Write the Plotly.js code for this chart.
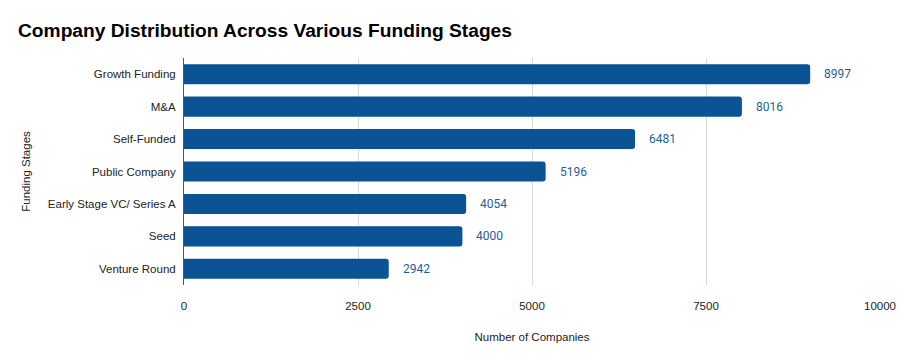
<!DOCTYPE html>
<html>
<head>
<meta charset="utf-8">
<script src="https://cdn.plot.ly/plotly-3.0.1.min.js"></script>
<style>html,body{margin:0;padding:0;background:#fff;}#chart{width:900px;height:360px;}</style>
</head>
<body>
<div id="chart"></div>
<script>
const categories = ["Growth Funding", "M&A", "Self-Funded", "Public Company", "Early Stage VC/ Series A", "Seed", "Venture Round"];
const values = [8997, 8016, 6481, 5196, 4054, 4000, 2942];
const xTicks = [0, 2500, 5000, 7500, 10000];

const trace = {
  type: 'bar',
  orientation: 'h',
  y: categories,
  x: values,
  marker: {color: '#0b5394', cornerradius: 3},
  hoverinfo: 'none'
};

const annotations = categories.map((c, i) => ({
  x: values[i], y: c, xref: 'x', yref: 'y',
  text: String(values[i]), showarrow: false,
  xanchor: 'left', yanchor: 'middle', xshift: 12,
  font: {family: 'Roboto, Arial, sans-serif', size: 12, color: '#1f5f99'}
}));

const layout = {
  width: 900, height: 360,
  margin: {l: 184, r: 20, t: 58, b: 75},
  paper_bgcolor: '#ffffff', plot_bgcolor: '#ffffff',
  bargap: 0.38,
  showlegend: false,
  annotations: annotations,
  title: {
    text: 'Company Distribution Across Various Funding Stages',
    x: 0.02, xanchor: 'left', y: 0.915, yanchor: 'middle',
    font: {family: 'Liberation Sans, Arial, sans-serif', size: 19.2, color: '#000000', weight: 'bold'}
  },
  xaxis: {
    range: [0, 10000],
    tickvals: xTicks,
    ticktext: xTicks.map(String),
    showgrid: true, gridcolor: '#d9d9d9', gridwidth: 1,
    zeroline: false,
    showline: false,
    ticks: '', ticklabelstandoff: 12,
    tickfont: {family: 'Liberation Sans, Arial, sans-serif', size: 11.5, color: '#222222'},
    title: {text: 'Number of Companies', standoff: 22, font: {family: 'Liberation Sans, Arial, sans-serif', size: 11.5, color: '#222222'}}
  },
  yaxis: {
    autorange: 'reversed',
    showline: true, linecolor: '#555555', linewidth: 1,
    ticks: '', ticklabelstandoff: 5,
    tickfont: {family: 'Liberation Sans, Arial, sans-serif', size: 11.5, color: '#222222'},
    title: {text: 'Funding Stages', standoff: 14, font: {family: 'Liberation Sans, Arial, sans-serif', size: 11.5, color: '#222222'}}
  }
};

Plotly.newPlot('chart', [trace], layout, {displayModeBar: false, staticPlot: true});
</script>
</body>
</html>
